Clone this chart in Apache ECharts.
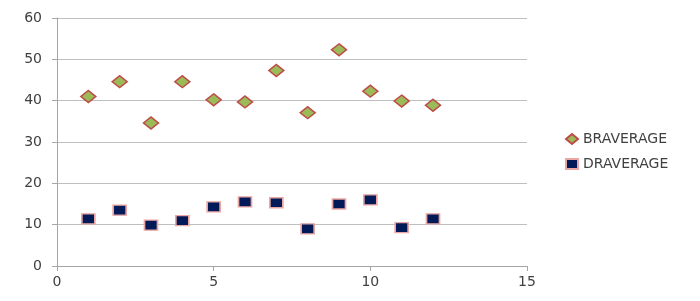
<!DOCTYPE html>
<html><head><meta charset="utf-8">
<script src="https://cdn.jsdelivr.net/npm/echarts@6/dist/echarts.min.js"></script>
<style>html,body{margin:0;padding:0;background:#fff}#c{width:700px;height:301px}</style>
</head><body><div id="c"></div>
<script>
const xValues = [1,2,3,4,5,6,7,8,9,10,11,12];
const brAverage = [41.0,44.6,34.6,44.6,40.2,39.7,47.3,37.1,52.3,42.3,39.9,38.9];
const drAverage = [11.4,13.5,9.9,11.0,14.3,15.5,15.3,9.0,15.0,16.0,9.3,11.4];
const seriesNames = ['BRAVERAGE','DRAVERAGE'];

const chart = echarts.init(document.getElementById('c'));
const font = '"DejaVu Sans", sans-serif';
chart.setOption({
  animation:false,
  grid:{left:57,right:173,top:18,bottom:35},
  legend:{orient:'vertical',left:560,top:127,itemGap:11,itemWidth:12,itemHeight:10,
    textStyle:{fontFamily:font,fontSize:14,color:'#404040'},
    data:[{name:seriesNames[0],icon:'diamond'},{name:seriesNames[1],icon:'rect'}]},
  xAxis:{type:'value',min:0,max:15,interval:5,
    axisLine:{lineStyle:{color:'#a6a6a6'}},axisTick:{show:true,length:5,lineStyle:{color:'#a6a6a6'}},
    splitLine:{show:false},
    axisLabel:{fontFamily:font,fontSize:14,color:'#404040',margin:9}},
  yAxis:{type:'value',min:0,max:60,interval:10,
    axisLine:{show:true,lineStyle:{color:'#a6a6a6'}},axisTick:{show:true,length:5,lineStyle:{color:'#a6a6a6'}},
    splitLine:{lineStyle:{color:'#bfbfbf'}},
    axisLabel:{fontFamily:font,fontSize:14,color:'#404040',margin:15}},
  series:[
    {name:seriesNames[0],type:'scatter',symbol:'diamond',symbolSize:[15,12],
      itemStyle:{color:'#9bbb59',borderColor:'#be4b48',borderWidth:1.5,opacity:1},
      data:xValues.map((x,i)=>[x,brAverage[i]])},
    {name:seriesNames[1],type:'scatter',symbol:'rect',symbolSize:[13,10],
      itemStyle:{color:'#021a57',borderColor:'#eaa6a3',borderWidth:1.5,opacity:1},
      data:xValues.map((x,i)=>[x,drAverage[i]])}
  ]
});
</script></body></html>
